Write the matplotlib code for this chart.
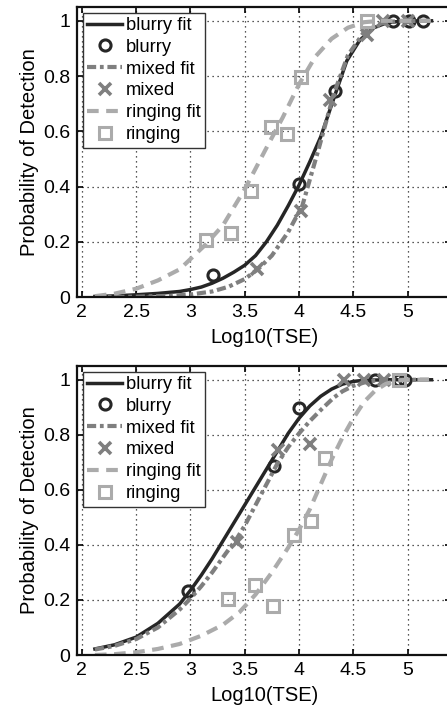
import matplotlib
matplotlib.use("Agg")
import matplotlib.pyplot as plt

plt.rcParams["font.family"] = ["Liberation Sans", "DejaVu Sans"]

# ---- top panel ----
top_blurry_fit_x = [2.12, 2.3, 2.5, 2.7, 2.9, 3.0, 3.1, 3.2, 3.3, 3.4, 3.5, 3.6, 3.7, 3.8,
                    3.9, 4.0, 4.1, 4.2, 4.33, 4.44, 4.56, 4.69, 4.81, 4.95, 5.22]
top_blurry_fit_y = [0.002, 0.004, 0.008, 0.013, 0.02, 0.027, 0.036, 0.05, 0.068, 0.09, 0.115,
                    0.15, 0.2, 0.26, 0.33, 0.405, 0.49, 0.58, 0.73, 0.855, 0.93, 0.975, 0.993,
                    0.999, 1.0]
top_blurry_x = [3.21, 4.0, 4.33, 4.87, 5.01, 5.14]
top_blurry_y = [0.078, 0.41, 0.745, 1.0, 1.0, 1.0]

top_mixed_fit_x = [2.12, 2.5, 2.8, 3.0, 3.2, 3.35, 3.5, 3.62, 3.75, 3.9, 4.03, 4.18, 4.32,
                   4.45, 4.6, 4.75, 4.9, 5.22]
top_mixed_fit_y = [0.0, 0.001, 0.004, 0.009, 0.02, 0.037, 0.065, 0.1, 0.15, 0.235, 0.33, 0.535,
                   0.735, 0.875, 0.96, 0.99, 0.999, 1.0]
top_mixed_x = [3.61, 4.02, 4.29, 4.63, 4.77, 5.0]
top_mixed_y = [0.103, 0.31, 0.715, 0.95, 1.0, 1.0]

top_ringing_fit_x = [2.12, 2.3, 2.5, 2.7, 2.9, 3.14, 3.3, 3.5, 3.7, 3.85, 4.0, 4.15, 4.3,
                     4.45, 4.6, 4.75, 5.0, 5.22]
top_ringing_fit_y = [0.003, 0.012, 0.03, 0.06, 0.1, 0.19, 0.26, 0.39, 0.54, 0.65, 0.77, 0.87,
                     0.935, 0.975, 0.995, 1.0, 1.0, 1.0]
top_ringing_x = [3.14, 3.37, 3.56, 3.74, 3.89, 4.02, 4.63]
top_ringing_y = [0.206, 0.233, 0.385, 0.616, 0.59, 0.796, 1.0]

# ---- bottom panel ----
bot_blurry_fit_x = [2.12, 2.3, 2.5, 2.7, 2.9, 3.0, 3.1, 3.2, 3.3, 3.4, 3.5, 3.6, 3.7, 3.8,
                    3.9, 4.0, 4.1, 4.2, 4.3, 4.4, 4.5, 4.6, 4.8, 5.22]
bot_blurry_fit_y = [0.022, 0.037, 0.065, 0.115, 0.185, 0.235, 0.29, 0.35, 0.415, 0.48, 0.545,
                    0.61, 0.675, 0.74, 0.805, 0.86, 0.905, 0.94, 0.966, 0.984, 0.994, 0.998,
                    1.0, 1.0]
bot_blurry_x = [2.98, 3.77, 4.0, 4.7, 4.92, 4.98]
bot_blurry_y = [0.232, 0.688, 0.897, 1.0, 1.0, 1.0]

bot_mixed_fit_x = [2.12, 2.3, 2.5, 2.7, 2.9, 3.0, 3.1, 3.2, 3.3, 3.43, 3.5, 3.6, 3.7, 3.8,
                   3.9, 4.0, 4.1, 4.2, 4.32, 4.4, 4.5, 4.6, 4.7, 4.85, 5.22]
bot_mixed_fit_y = [0.02, 0.033, 0.058, 0.1, 0.165, 0.205, 0.25, 0.3, 0.355, 0.425, 0.47,
                   0.545, 0.62, 0.695, 0.755, 0.805, 0.85, 0.89, 0.935, 0.958, 0.978, 0.99,
                   0.997, 1.0, 1.0]
bot_mixed_x = [3.43, 3.81, 4.1, 4.41, 4.6, 4.78]
bot_mixed_y = [0.411, 0.745, 0.768, 1.0, 1.0, 1.0]

bot_ringing_fit_x = [2.12, 2.3, 2.5, 2.7, 2.9, 3.1, 3.3, 3.45, 3.6, 3.75, 3.9, 4.0, 4.1, 4.2,
                     4.3, 4.4, 4.5, 4.6, 4.7, 4.8, 4.9, 5.0, 5.22]
bot_ringing_fit_y = [0.0, 0.003, 0.01, 0.022, 0.04, 0.07, 0.11, 0.155, 0.22, 0.3, 0.39, 0.455,
                     0.53, 0.62, 0.71, 0.79, 0.86, 0.92, 0.96, 0.985, 0.997, 1.0, 1.0]
bot_ringing_x = [3.35, 3.59, 3.765, 3.95, 4.11, 4.24, 4.92]
bot_ringing_y = [0.202, 0.254, 0.179, 0.435, 0.486, 0.716, 1.0]

x_ticks = [2, 2.5, 3, 3.5, 4, 4.5, 5]
x_tick_labels = ["2", "2.5", "3", "3.5", "4", "4.5", "5"]
y_ticks = [0, 0.2, 0.4, 0.6, 0.8, 1]
y_tick_labels = ["0", "0.2", "0.4", "0.6", "0.8", "1"]

DARK = "#262626"
MID = "#7f7f7f"
LIGHT = "#ababab"


def draw_panel(ax, bfx, bfy, bx, by, mfx, mfy, mx, my, rfx, rfy, rx, ry):
    ax.plot(bfx, bfy, color=DARK, lw=2.5, label="blurry fit")
    ax.plot(bx, by, "o", ms=8, mew=2.2, mec=DARK, mfc="none", label="blurry")
    ax.plot(mfx, mfy, color=MID, lw=3, ls=(0, (2.2, 0.9, 0.9, 0.9)), label="mixed fit")
    ax.plot(mx, my, "x", ms=8, mew=2.6, color=MID, label="mixed")
    ax.plot(rfx, rfy, color=LIGHT, lw=3, ls=(0, (2.8, 1.8)), label="ringing fit")
    ax.plot(rx, ry, "s", ms=8, mew=2.2, mec=LIGHT, mfc="none", label="ringing")

    ax.set_xlim(1.955, 5.4)
    ax.set_ylim(0, 1.05)
    ax.set_xticks(x_ticks)
    ax.set_xticklabels(x_tick_labels)
    ax.set_yticks(y_ticks)
    ax.set_yticklabels(y_tick_labels)
    ax.tick_params(direction="in", top=True, right=True, labelsize=14,
                   length=4, width=1.2, pad=5)
    ax.grid(True, color="#222222", lw=0.9, ls=(0, (1, 3)))
    for sp in ax.spines.values():
        sp.set_linewidth(1.6)
        sp.set_color("#111111")
    ax.set_xlabel("Log10(TSE)", fontsize=14.5, labelpad=5)
    ax.set_ylabel("Probability of Detection", fontsize=14.5, labelpad=3)
    leg = ax.legend(loc="upper left", fontsize=13.2, handlelength=1.9,
                    handletextpad=0.2, labelspacing=0.26, borderpad=0.25,
                    borderaxespad=0.3, numpoints=1, fancybox=False,
                    framealpha=1, edgecolor="#333333")
    leg.get_frame().set_linewidth(1.0)


fig = plt.figure(figsize=(4.47, 7.15), dpi=100)
ax_top = fig.add_axes([77 / 447, (715 - 297) / 715, 374 / 447, 290 / 715])
ax_bot = fig.add_axes([77 / 447, (715 - 655) / 715, 374 / 447, 289 / 715])

draw_panel(ax_top, top_blurry_fit_x, top_blurry_fit_y, top_blurry_x, top_blurry_y,
           top_mixed_fit_x, top_mixed_fit_y, top_mixed_x, top_mixed_y,
           top_ringing_fit_x, top_ringing_fit_y, top_ringing_x, top_ringing_y)
draw_panel(ax_bot, bot_blurry_fit_x, bot_blurry_fit_y, bot_blurry_x, bot_blurry_y,
           bot_mixed_fit_x, bot_mixed_fit_y, bot_mixed_x, bot_mixed_y,
           bot_ringing_fit_x, bot_ringing_fit_y, bot_ringing_x, bot_ringing_y)

fig.savefig("out.png", dpi=100)
